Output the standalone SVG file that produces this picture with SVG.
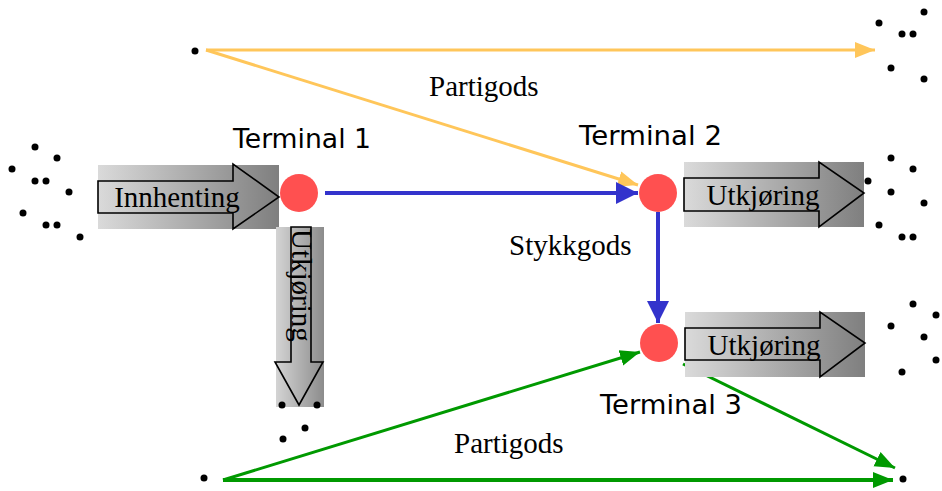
<svg xmlns="http://www.w3.org/2000/svg" width="942" height="491" viewBox="0 0 942 491">
  <style>
    .dot { fill: #000; }
    .label { font-family: "Liberation Serif", "Times New Roman", serif; font-size: 29px; fill: #000; }
    .term { font-family: "DejaVu Sans", "Noto Sans", sans-serif; font-size: 26px; fill: #000; }
    .arrowbox { stroke: #000; stroke-width: 1.6; fill: none; }
    .terminal { fill: #ff5050; }
    .yellow { stroke: #ffc65a; stroke-width: 3; fill: none; }
    .blue { stroke: #3333cc; stroke-width: 4; fill: none; }
    .green { stroke: #009900; stroke-width: 3; fill: none; }
    .green-thick { stroke: #009900; stroke-width: 4; fill: none; }
  </style>
  <defs>
    <linearGradient id="shade" x1="0" y1="0" x2="1" y2="0">
      <stop offset="0" stop-color="#dadada"/>
      <stop offset="1" stop-color="#7f7f7f"/>
    </linearGradient>
    <linearGradient id="shadeV" x1="0" y1="0" x2="1" y2="0">
      <stop offset="0" stop-color="#d4d4d4"/>
      <stop offset="1" stop-color="#8c8c8c"/>
    </linearGradient>
    <marker id="headY" markerUnits="userSpaceOnUse" viewBox="0 0 20 20" refX="20" refY="10" markerWidth="20" markerHeight="20" orient="auto">
      <path d="M0,2 L20,10 L0,18 Z" fill="#ffc65a"/>
    </marker>
    <marker id="headB" markerUnits="userSpaceOnUse" viewBox="0 0 22 22" refX="22" refY="11" markerWidth="22" markerHeight="22" orient="auto">
      <path d="M0,0 L22,11 L0,22 Z" fill="#3333cc"/>
    </marker>
    <marker id="headG" markerUnits="userSpaceOnUse" viewBox="0 0 20 20" refX="20" refY="10" markerWidth="20" markerHeight="20" orient="auto">
      <path d="M0,2 L20,10 L0,18 Z" fill="#009900"/>
    </marker>
  </defs>

  <rect width="942" height="491" fill="#fff"/>

  <!-- flows between terminals -->
  <g id="connectors">
    <line class="yellow" x1="206" y1="50" x2="875" y2="50" marker-end="url(#headY)"/>
    <line class="yellow" x1="206" y1="50" x2="638" y2="185" marker-end="url(#headY)"/>
    <line class="blue" x1="325" y1="193" x2="638" y2="193" marker-end="url(#headB)"/>
    <line class="blue" x1="658" y1="212" x2="658" y2="323" marker-end="url(#headB)"/>
    <line class="green" x1="223" y1="480" x2="640" y2="352" marker-end="url(#headG)"/>
    <line class="green-thick" x1="223" y1="480" x2="893" y2="480" marker-end="url(#headG)"/>
    <line class="green" x1="683" y1="364" x2="895" y2="468" marker-end="url(#headG)"/>
  </g>

  <!-- collection arrow into terminal 1 -->
  <g id="innhenting">
    <rect x="98" y="165" width="181" height="64" fill="url(#shade)"/>
    <path class="arrowbox" d="M98,181 L233,181 L233,164 L279,197 L233,229 L233,213 L98,213 Z"/>
    <text class="label" x="177" y="207" text-anchor="middle">Innhenting</text>
  </g>

  <!-- distribution arrow below terminal 1 -->
  <g id="utkjoring1">
    <rect x="276" y="227" width="48" height="180" fill="url(#shadeV)"/>
    <path class="arrowbox" d="M291,227 L311,227 L311,362 L323,362 L299,405 L275,362 L291,362 Z"/>
    <text class="label" transform="translate(292,229) rotate(90)">Utkjøring</text>
  </g>

  <!-- distribution arrow from terminal 2 -->
  <g id="utkjoring2">
    <rect x="684" y="162" width="180" height="65" fill="url(#shade)"/>
    <path class="arrowbox" d="M684,178 L819,178 L819,162 L864,193 L819,227 L819,211 L684,211 Z"/>
    <text class="label" x="763" y="205" text-anchor="middle">Utkjøring</text>
  </g>

  <!-- distribution arrow from terminal 3 -->
  <g id="utkjoring3">
    <rect x="685" y="312" width="180" height="65" fill="url(#shade)"/>
    <path class="arrowbox" d="M685,328 L820,328 L820,312 L865,343 L820,377 L820,360 L685,360 Z"/>
    <text class="label" x="764" y="355" text-anchor="middle">Utkjøring</text>
  </g>

  <!-- terminals -->
  <g id="terminal1">
    <circle class="terminal" cx="299" cy="193" r="19"/>
    <text class="term" x="233" y="148" textLength="138" lengthAdjust="spacingAndGlyphs">Terminal 1</text>
  </g>
  <g id="terminal2">
    <circle class="terminal" cx="658" cy="193" r="19"/>
    <text class="term" x="579" y="145" textLength="143" lengthAdjust="spacingAndGlyphs">Terminal 2</text>
  </g>
  <g id="terminal3">
    <circle class="terminal" cx="659" cy="343" r="19"/>
    <text class="term" x="600" y="414" textLength="142" lengthAdjust="spacingAndGlyphs">Terminal 3</text>
  </g>

  <!-- flow labels -->
  <g id="labels">
    <text class="label" x="429" y="96">Partigods</text>
    <text class="label" x="509" y="255">Stykkgods</text>
    <text class="label" x="454" y="453">Partigods</text>
  </g>

  <!-- customers / shippers -->
  <g id="customers">
    <circle class="dot" cx="195" cy="51" r="3.5"/>
    <circle class="dot" cx="204" cy="478" r="3.5"/>

    <circle class="dot" cx="35" cy="147" r="3.5"/>
    <circle class="dot" cx="57" cy="158" r="3.5"/>
    <circle class="dot" cx="12" cy="169" r="3.5"/>
    <circle class="dot" cx="35" cy="181" r="3.5"/>
    <circle class="dot" cx="46" cy="181" r="3.5"/>
    <circle class="dot" cx="69" cy="192" r="3.5"/>
    <circle class="dot" cx="23" cy="213" r="3.5"/>
    <circle class="dot" cx="46" cy="225" r="3.5"/>
    <circle class="dot" cx="57" cy="225" r="3.5"/>
    <circle class="dot" cx="80" cy="237" r="3.5"/>

    <circle class="dot" cx="282" cy="405" r="3.5"/>
    <circle class="dot" cx="317" cy="405" r="3.5"/>
    <circle class="dot" cx="305" cy="428" r="3.5"/>
    <circle class="dot" cx="283" cy="439" r="3.5"/>

    <circle class="dot" cx="924" cy="12" r="3.5"/>
    <circle class="dot" cx="879" cy="23" r="3.5"/>
    <circle class="dot" cx="902" cy="34" r="3.5"/>
    <circle class="dot" cx="913" cy="34" r="3.5"/>
    <circle class="dot" cx="891" cy="68" r="3.5"/>
    <circle class="dot" cx="924" cy="79" r="3.5"/>

    <circle class="dot" cx="891" cy="158" r="3.5"/>
    <circle class="dot" cx="913" cy="169" r="3.5"/>
    <circle class="dot" cx="868" cy="181" r="3.5"/>
    <circle class="dot" cx="891" cy="192" r="3.5"/>
    <circle class="dot" cx="924" cy="203" r="3.5"/>
    <circle class="dot" cx="879" cy="225" r="3.5"/>
    <circle class="dot" cx="902" cy="237" r="3.5"/>
    <circle class="dot" cx="913" cy="237" r="3.5"/>

    <circle class="dot" cx="913" cy="304" r="3.5"/>
    <circle class="dot" cx="936" cy="315" r="3.5"/>
    <circle class="dot" cx="891" cy="326" r="3.5"/>
    <circle class="dot" cx="924" cy="337" r="3.5"/>
    <circle class="dot" cx="936" cy="360" r="3.5"/>
    <circle class="dot" cx="902" cy="372" r="3.5"/>

    <circle class="dot" cx="903" cy="479" r="3.5"/>
  </g>
</svg>
